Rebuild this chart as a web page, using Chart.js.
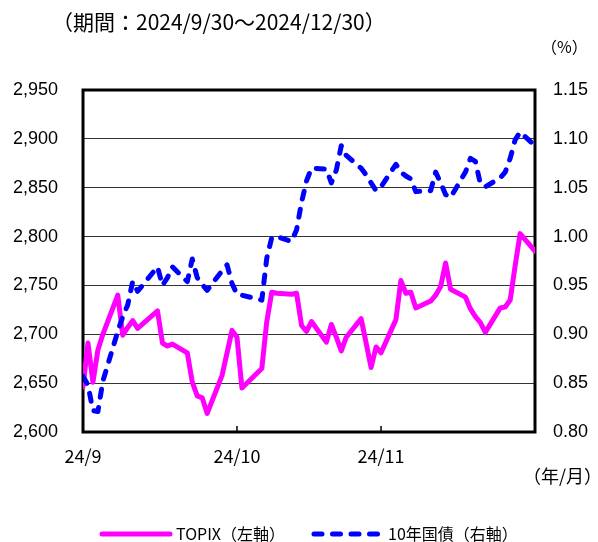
<!DOCTYPE html>
<html>
<head>
<meta charset="utf-8">
<script src="https://cdn.jsdelivr.net/npm/chart.js@4.4.1/dist/chart.umd.min.js"></script>
<style>
  html, body { margin: 0; padding: 0; background: #fff; }
</style>
</head>
<body>
<canvas id="chart" width="598" height="542"></canvas>
<script>
// trading days, 2024/9/30 - 2024/12/30
const dates = [
  '2024-09-30',
  '2024-10-01', '2024-10-02', '2024-10-03', '2024-10-04', '2024-10-07', '2024-10-08',
  '2024-10-09', '2024-10-10', '2024-10-11', '2024-10-15', '2024-10-16', '2024-10-17',
  '2024-10-18', '2024-10-21', '2024-10-22', '2024-10-23', '2024-10-24', '2024-10-25',
  '2024-10-28', '2024-10-29', '2024-10-30', '2024-10-31',
  '2024-11-01', '2024-11-05', '2024-11-06', '2024-11-07', '2024-11-08', '2024-11-11',
  '2024-11-12', '2024-11-13', '2024-11-14', '2024-11-15', '2024-11-18', '2024-11-19',
  '2024-11-20', '2024-11-21', '2024-11-22', '2024-11-25', '2024-11-26', '2024-11-27',
  '2024-11-28', '2024-11-29',
  '2024-12-02', '2024-12-03', '2024-12-04', '2024-12-05', '2024-12-06', '2024-12-09',
  '2024-12-10', '2024-12-11', '2024-12-12', '2024-12-13', '2024-12-16', '2024-12-17',
  '2024-12-18', '2024-12-19', '2024-12-20', '2024-12-23', '2024-12-24', '2024-12-25',
  '2024-12-26', '2024-12-27', '2024-12-30'
];

const topix = [
  2646,
  2691, 2651, 2684, 2700, 2740, 2699,
  2707, 2714, 2706, 2724, 2691, 2688,
  2690, 2681, 2651, 2637, 2635, 2619,
  2658, 2681, 2704, 2697,
  2645, 2665, 2713, 2743, 2742, 2741,
  2742, 2709, 2703, 2713, 2692, 2710,
  2697, 2683, 2697, 2716, 2691, 2666,
  2687, 2681,
  2715, 2755, 2742, 2743, 2727, 2734,
  2740, 2749, 2773, 2746, 2738, 2726,
  2718, 2712, 2702, 2727, 2728, 2735,
  2770, 2803, 2785
];

const jgb10y = [
  0.857,
  0.848, 0.822, 0.821, 0.852, 0.903, 0.918,
  0.930, 0.954, 0.944, 0.969, 0.950, 0.958,
  0.969, 0.954, 0.977, 0.958, 0.951, 0.945,
  0.965, 0.971, 0.952, 0.941,
  0.940, 0.935, 0.978, 0.999, 1.000, 0.995,
  1.007, 1.035, 1.057, 1.070, 1.069, 1.055,
  1.068, 1.093, 1.083, 1.070, 1.063, 1.055,
  1.047, 1.051,
  1.074, 1.066, 1.062, 1.059, 1.046, 1.047,
  1.066, 1.055, 1.043, 1.040, 1.066, 1.080,
  1.077, 1.054, 1.051, 1.060, 1.066, 1.080,
  1.099, 1.107, 1.093
];

const xTickDates = ['2024-09-30', '2024-10-31', '2024-11-29'];
const xTickLabels = ['24/9', '24/10', '24/11'];
const seriesNames = ['TOPIX（左軸）', '10年国債（右軸）'];
const titleText = '（期間：2024/9/30～2024/12/30）';

const JP = '"Noto Sans CJK JP", sans-serif';
const DAY = 86400000;
const t0 = Date.parse(dates[0]);
const toDay = d => Math.round((Date.parse(d) - t0) / DAY);

const frame = {
  id: 'frame',
  beforeDatasetsDraw(chart) {
    const { ctx, chartArea: a } = chart;
    ctx.save();
    ctx.strokeStyle = '#000';
    ctx.lineWidth = 3;
    ctx.strokeRect(a.left, a.top, a.right - a.left, a.bottom - a.top);
    // short inward tick marks on the x axis
    ctx.lineWidth = 1.5;
    chart.scales.x.ticks.forEach(t => {
      const x = chart.scales.x.getPixelForValue(t.value);
      ctx.beginPath();
      ctx.moveTo(x, a.bottom);
      ctx.lineTo(x, a.bottom - 6);
      ctx.stroke();
    });
    ctx.restore();
  }
};

const texts = {
  id: 'texts',
  afterDraw(chart) {
    const ctx = chart.ctx;
    ctx.save();
    ctx.fillStyle = '#000';
    ctx.textBaseline = 'middle';
    ctx.textAlign = 'left';
    ctx.font = '21px ' + JP;
    ctx.fillText(titleText, 52, 22);
    ctx.font = '16px ' + JP;
    ctx.fillText('（%）', 541, 47);
    ctx.font = '18px ' + JP;
    ctx.fillText('（年/月）', 523, 476);

    // legend
    const legendX = [100, 312];
    ctx.font = '16px ' + JP;
    chart.data.datasets.forEach((ds, i) => {
      ctx.save();
      ctx.strokeStyle = ds.borderColor;
      ctx.lineWidth = ds.borderWidth;
      ctx.lineCap = 'round';
      ctx.setLineDash(ds.borderDash || []);
      ctx.beginPath();
      ctx.moveTo(legendX[i] + 2, 534);
      ctx.lineTo(legendX[i] + 70, 534);
      ctx.stroke();
      ctx.restore();
      ctx.fillText(ds.label, legendX[i] + 76, 534);
    });
    ctx.restore();
  }
};

const tickFont = { family: '"Liberation Sans", Arial, sans-serif', size: 18 };

new Chart(document.getElementById('chart'), {
  type: 'line',
  data: {
    datasets: [
      {
        label: seriesNames[0],
        data: dates.map((d, i) => ({ x: toDay(d), y: topix[i] })),
        yAxisID: 'y',
        borderColor: '#FF00FF',
        borderWidth: 5,
        borderCapStyle: 'round',
        borderJoinStyle: 'round',
        pointRadius: 0,
        tension: 0,
        order: 1
      },
      {
        label: seriesNames[1],
        data: dates.map((d, i) => ({ x: toDay(d), y: jgb10y[i] })),
        yAxisID: 'y1',
        borderColor: '#0000FF',
        borderWidth: 5,
        borderDash: [8, 10.5],
        borderCapStyle: 'round',
        borderJoinStyle: 'round',
        pointRadius: 0,
        tension: 0,
        order: 0
      }
    ]
  },
  options: {
    responsive: false,
    animation: false,
    events: [],
    layout: { padding: { left: 12, right: 0, top: 90, bottom: 75 } },
    plugins: {
      legend: { display: false },
      tooltip: { enabled: false }
    },
    scales: {
      x: {
        type: 'linear',
        min: 0,
        max: toDay(dates[dates.length - 1]),
        afterBuildTicks: s => { s.ticks = xTickDates.map(d => ({ value: toDay(d) })); },
        afterFit: s => { s.height = 35; },
        ticks: {
          autoSkip: false,
          maxRotation: 0,
          padding: 13,
          color: '#000',
          font: { family: JP, size: 18 },
          callback: v => {
            const i = xTickDates.findIndex(d => toDay(d) === v);
            return i >= 0 ? xTickLabels[i] : '';
          }
        },
        grid: { display: false, drawTicks: false },
        border: { display: false }
      },
      y: {
        position: 'left',
        min: 2600,
        max: 2950,
        afterFit: s => { s.width = 71; },
        ticks: {
          stepSize: 50,
          padding: 25,
          color: '#000',
          font: tickFont,
          callback: v => v.toLocaleString('en-US')
        },
        grid: { color: '#333', lineWidth: 1, drawTicks: false },
        border: { display: false }
      },
      y1: {
        position: 'right',
        min: 0.8,
        max: 1.15,
        afterFit: s => { s.width = 63; },
        ticks: {
          stepSize: 0.05,
          padding: 18,
          color: '#000',
          font: tickFont,
          callback: v => v.toFixed(2)
        },
        grid: { drawOnChartArea: false, drawTicks: false },
        border: { display: false }
      }
    }
  },
  plugins: [frame, texts]
});
</script>
</body>
</html>
